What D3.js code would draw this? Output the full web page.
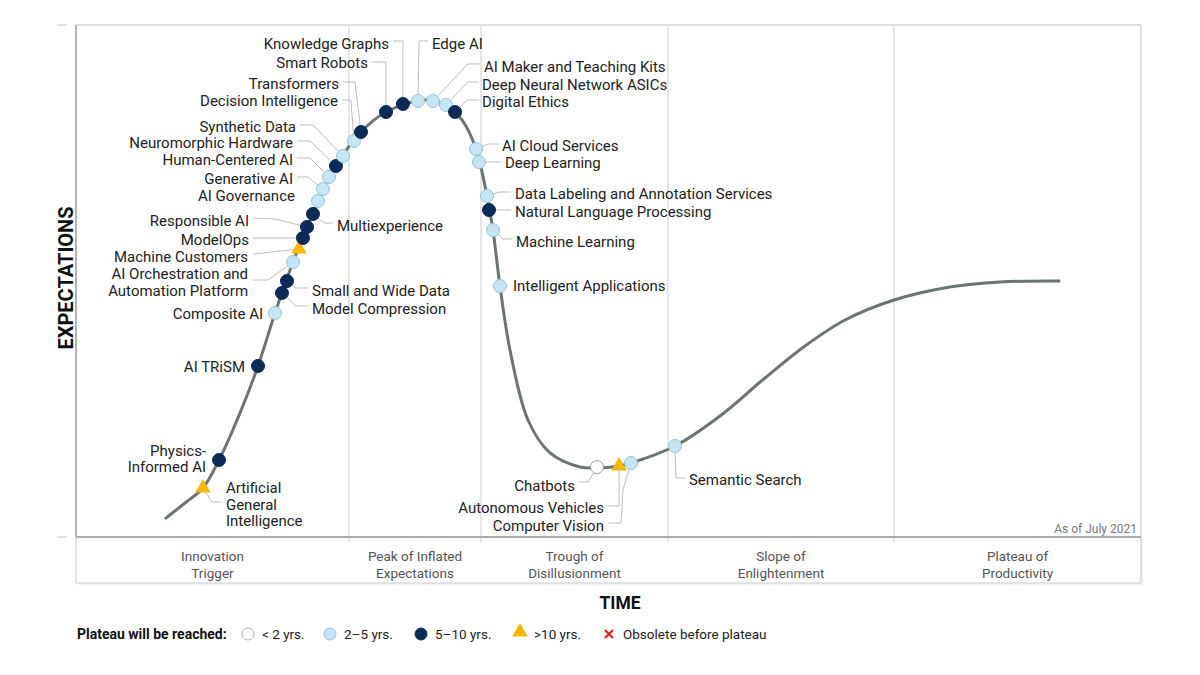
<!DOCTYPE html>
<html>
<head>
<meta charset="utf-8">
<script src="https://cdn.jsdelivr.net/npm/d3@7"></script>
<style>
  html, body { margin: 0; padding: 0; background: #fff; }
  svg { display: block; font-family: Roboto, "Noto Sans", Arial, sans-serif; }
</style>
</head>
<body>
<svg id="chart" width="1200" height="675"></svg>
<script>
// ---------------- DATA ----------------
const techNames = [
  "Artificial\nGeneral\nIntelligence", "Physics-\nInformed AI", "AI TRiSM", "Composite AI",
  "Model Compression", "Small and Wide Data", "AI Orchestration and\nAutomation Platform",
  "Machine Customers", "ModelOps", "Responsible AI", "Multiexperience", "AI Governance",
  "Generative AI", "Human-Centered AI", "Neuromorphic Hardware", "Synthetic Data",
  "Decision Intelligence", "Transformers", "Smart Robots", "Knowledge Graphs", "Edge AI",
  "AI Maker and Teaching Kits", "Deep Neural Network ASICs", "Digital Ethics",
  "AI Cloud Services", "Deep Learning", "Data Labeling and Annotation Services",
  "Natural Language Processing", "Machine Learning", "Intelligent Applications",
  "Chatbots", "Autonomous Vehicles", "Computer Vision", "Semantic Search"
];
// position along the time axis (0-100)
const timeValues = [
  11.92, 13.43, 17.09, 18.69, 19.34, 19.81, 20.38, 20.94, 21.31, 21.69, 22.25, 22.72,
  23.19, 23.76, 24.41, 25.07, 26.10, 26.76, 29.11, 30.70, 32.11, 33.52, 34.74, 35.59,
  37.56, 37.84, 38.59, 38.78, 39.15, 39.81, 48.92, 50.99, 52.11, 56.24
];
// expectations (0-100)
const expectValues = [
  9.57, 15.04, 33.40, 43.75, 47.66, 50.00, 53.71, 56.25, 58.40, 60.55, 63.09, 65.63,
  67.97, 70.31, 72.46, 74.41, 77.34, 79.10, 83.01, 84.57, 85.16, 85.16, 84.38, 83.01,
  75.78, 73.24, 66.60, 63.87, 59.96, 49.02, 13.67, 13.87, 14.45, 17.77
];
// years to plateau category
const plateauStatus = [
  "gt10", "5to10", "5to10", "2to5", "5to10", "5to10", "2to5", "gt10", "5to10", "5to10",
  "5to10", "2to5", "2to5", "2to5", "5to10", "2to5", "2to5", "5to10", "5to10", "5to10",
  "2to5", "2to5", "2to5", "5to10", "2to5", "2to5", "2to5", "5to10", "2to5", "2to5",
  "lt2", "gt10", "2to5", "2to5"
];
// hype-cycle curve
const curveTime = [
  8.45, 10.23, 11.92, 13.43, 15.40, 17.09, 18.69, 20.38, 22.25, 24.41, 26.76, 29.11,
  32.77, 34.74, 36.24, 37.56, 38.59, 39.15, 39.81, 40.75, 42.44, 44.51, 47.32, 48.92,
  50.99, 52.11, 56.24, 60.47, 64.69, 68.45, 72.21, 76.81, 82.07, 86.76, 92.30
];
const curveExpect = [
  3.71, 6.64, 9.57, 15.04, 24.22, 33.40, 43.75, 53.71, 63.09, 72.46, 79.10, 83.01,
  85.35, 84.38, 81.45, 75.78, 66.60, 59.96, 49.02, 36.52, 22.85, 16.41, 13.67, 13.48,
  13.87, 14.45, 17.77, 23.63, 31.05, 37.30, 42.38, 46.29, 48.83, 49.80, 50.00
];
const phaseNames = [
  "Innovation\nTrigger", "Peak of Inflated\nExpectations", "Trough of\nDisillusionment",
  "Slope of\nEnlightenment", "Plateau of\nProductivity"
];
const phaseBounds = [0, 25.63, 38.03, 55.59, 76.81, 100];
const legendKeys = ["lt2", "2to5", "5to10", "gt10", "obsolete"];
const legendLabels = ["< 2 yrs.", "2\u20135 yrs.", "5\u201310 yrs.", ">10 yrs.", "Obsolete before plateau"];

// ---------------- LAYOUT (label offsets in px relative to marker) ----------------
// [dx, dy, anchor, leader points relative to marker]
const labelLayout = [
  [23, 0, "start", [[9,14],[19,14]]],
  [-13, -9, "end", []],
  [-13, 1, "end", []],
  [-12, 1, "end", []],
  [30, 16, "start", [[14,13],[26,13]]],
  [25, 10, "start", [[9,7],[21,7]]],
  [-45, 12, "end", [[-25,18],[-40,18]]],
  [-51, 8, "end", [[-46,5]]],
  [-54, 2, "end", [[-50,0]]],
  [-58, -6, "end", [[-32,-8],[-54,-9]]],
  [24, 12, "start", [[11,9],[20,9]]],
  [-23, -5, "end", []],
  [-30, -10, "end", [[-15,-12],[-26,-12]]],
  [-36, -17, "end", [[-19,-19],[-32,-19]]],
  [-43, -23, "end", [[-26,-25],[-39,-25]]],
  [-47, -29, "end", [[-30,-31],[-43,-31]]],
  [-16, -40, "end", [[-3,-41],[-12,-41]]],
  [-22, -48, "end", [[-6,-50],[-18,-50]]],
  [-18, -49, "end", [[0,-50],[-14,-50]]],
  [-14, -60, "end", [[0,-63],[-10,-63]]],
  [14, -57, "start", [[1,-60],[10,-60]]],
  [51, -34, "start", [[35,-37],[47,-37]]],
  [36, -20, "start", [[22,-23],[33,-23]]],
  [27, -10, "start", [[12,-12],[24,-12]]],
  [26, -3, "start", [[12,-5],[23,-5]]],
  [26, 1, "start", [[22,0]]],
  [28, -2, "start", [[13,-4],[24,-4]]],
  [26, 2, "start", [[22,0]]],
  [23, 12, "start", [[10,9],[19,9]]],
  [13, 0, "start", []],
  [-22, 19, "end", [[-9,15],[-18,15]]],
  [-15, 42, "end", [[0,40],[-11,40]]],
  [-27, 63, "end", [[-8,27],[-10,60],[-23,60]]],
  [14, 34, "start", [[1,32],[10,32]]]
];

// ---------------- DRAW ----------------
const svg = d3.select("#chart");
const L = 76, R = 1141, T = 25, B = 537, BAND = 583;
const x = d3.scaleLinear().domain([0, 100]).range([L, R]);
const y = d3.scaleLinear().domain([0, 100]).range([B, T]);

const styles = {
  lt2:   { fill: "#ffffff", stroke: "#a0a0a0" },
  "2to5":  { fill: "#c4e6f5", stroke: "#9cc3d3" },
  "5to10": { fill: "#0c2a58", stroke: "#0c2a58" },
  gt10:  { fill: "#f5b800", stroke: "none" }
};

// frame
const frame = svg.append("g");
frame.append("rect").attr("x", L + 2).attr("y", B + 2).attr("width", R - L).attr("height", BAND - B)
  .attr("fill", "#f0f0f0");
frame.append("rect").attr("x", L).attr("y", B).attr("width", R - L).attr("height", BAND - B)
  .attr("fill", "#fff").attr("stroke", "#dcdcdc").attr("stroke-width", 1.5);
frame.append("line").attr("x1", L).attr("x2", R).attr("y1", T).attr("y2", T)
  .attr("stroke", "#e0e0e0").attr("stroke-width", 2);
frame.append("line").attr("x1", R).attr("x2", R).attr("y1", T).attr("y2", BAND)
  .attr("stroke", "#e0e0e0").attr("stroke-width", 2);

// phase dividers
frame.selectAll("line.div").data(phaseBounds.slice(1, -1)).join("line")
  .attr("class", "div")
  .attr("x1", d => x(d)).attr("x2", d => x(d))
  .attr("y1", T).attr("y2", B + 6)
  .attr("stroke", "#dedede").attr("stroke-width", 1.5);

// axes lines
frame.append("line").attr("x1", L).attr("x2", L).attr("y1", T).attr("y2", B)
  .attr("stroke", "#9a9a9a").attr("stroke-width", 1.5);
frame.append("line").attr("x1", L).attr("x2", R).attr("y1", B).attr("y2", B)
  .attr("stroke", "#9a9a9a").attr("stroke-width", 1.5);
// outside ticks
frame.selectAll("line.tk").data([0, 100]).join("line")
  .attr("class", "tk")
  .attr("x1", 57).attr("x2", 67).attr("y1", d => y(d)).attr("y2", d => y(d))
  .attr("stroke", "#d8d8d8").attr("stroke-width", 1.5);

// phase labels
const phaseG = svg.append("g");
phaseNames.forEach((name, i) => {
  const cx = x((phaseBounds[i] + phaseBounds[i + 1]) / 2);
  const t = phaseG.append("text").attr("x", cx).attr("y", 561)
    .attr("text-anchor", "middle").attr("font-size", 13.5).attr("fill", "#555");
  name.split("\n").forEach((ln, j) => {
    t.append("tspan").attr("x", cx).attr("dy", j === 0 ? 0 : 16.5).text(ln);
  });
});

// "As of" note
svg.append("text").attr("x", R - 4).attr("y", 533).attr("text-anchor", "end")
  .attr("font-size", 12).attr("fill", "#777").text("As of July 2021");

// axis titles
svg.append("text").attr("transform", `translate(73,278) rotate(-90)`)
  .attr("text-anchor", "middle").attr("font-size", 20).attr("font-weight", "bold")
  .attr("fill", "#111").text("EXPECTATIONS");
svg.append("text").attr("x", 620).attr("y", 609).attr("text-anchor", "middle")
  .attr("font-size", 17.5).attr("font-weight", "bold").attr("fill", "#111").text("TIME");

// curve
const curvePts = curveTime.map((t, i) => [t, curveExpect[i]]);
svg.append("path").datum(curvePts)
  .attr("d", d3.line().x(d => x(d[0])).y(d => y(d[1])).curve(d3.curveCatmullRom.alpha(0.5)))
  .attr("fill", "none").attr("stroke", "#6c7471").attr("stroke-width", 3)
  .attr("stroke-linecap", "round");

// tech records
const techs = techNames.map((n, i) => ({
  name: n, t: timeValues[i], e: expectValues[i], s: plateauStatus[i], lay: labelLayout[i]
}));

// leaders
svg.append("g").selectAll("polyline").data(techs.filter(d => d.lay[3].length)).join("polyline")
  .attr("points", d => {
    const mx = x(d.t), my = y(d.e);
    return [[mx, my]].concat(d.lay[3].map(p => [mx + p[0], my + p[1]])).map(p => p.join(",")).join(" ");
  })
  .attr("fill", "none").attr("stroke", "#bdbdbd").attr("stroke-width", 1);

// markers
const tri = d3.symbol(d3.symbolTriangle, 105);
const mk = svg.append("g");
techs.forEach(d => {
  const mx = x(d.t), my = y(d.e), st = styles[d.s];
  if (d.s === "gt10") {
    mk.append("path").attr("d", tri()).attr("transform", `translate(${mx},${my})`)
      .attr("fill", st.fill);
  } else {
    mk.append("circle").attr("cx", mx).attr("cy", my).attr("r", 6.5)
      .attr("fill", st.fill).attr("stroke", st.stroke).attr("stroke-width", 1);
  }
});

// labels
const lg = svg.append("g");
techs.forEach(d => {
  const mx = x(d.t), my = y(d.e);
  const [dx, dy, anchor] = d.lay;
  const t = lg.append("text").attr("x", mx + dx).attr("y", my + dy + 5)
    .attr("text-anchor", anchor).attr("font-size", 15).attr("fill", "#222");
  d.name.split("\n").forEach((ln, j) => {
    t.append("tspan").attr("x", mx + dx).attr("dy", j === 0 ? 0 : 16.5).text(ln);
  });
});

// legend
const leg = svg.append("g");
const ly = 634;
leg.append("text").attr("x", 77).attr("y", ly + 5).attr("font-size", 14)
  .attr("font-weight", "bold").attr("fill", "#111").text("Plateau will be reached:");
const legX = [248, 330, 421, 520, 609];
legendKeys.forEach((k, i) => {
  const cx = legX[i];
  if (k === "gt10") {
    leg.append("path").attr("d", tri()).attr("transform", `translate(${cx},${ly - 2})`)
      .attr("fill", styles.gt10.fill);
  } else if (k === "obsolete") {
    leg.append("path").attr("d", `M${cx - 4},${ly - 4}L${cx + 4},${ly + 4}M${cx + 4},${ly - 4}L${cx - 4},${ly + 4}`)
      .attr("stroke", "#e02020").attr("stroke-width", 2.2).attr("fill", "none");
  } else {
    leg.append("circle").attr("cx", cx).attr("cy", ly).attr("r", 6)
      .attr("fill", styles[k].fill).attr("stroke", k === "lt2" ? "#b0b0b0" : styles[k].stroke);
  }
  leg.append("text").attr("x", cx + 14).attr("y", ly + 5).attr("font-size", 13.5)
    .attr("fill", "#222").text(legendLabels[i]);
});
</script>
</body>
</html>
